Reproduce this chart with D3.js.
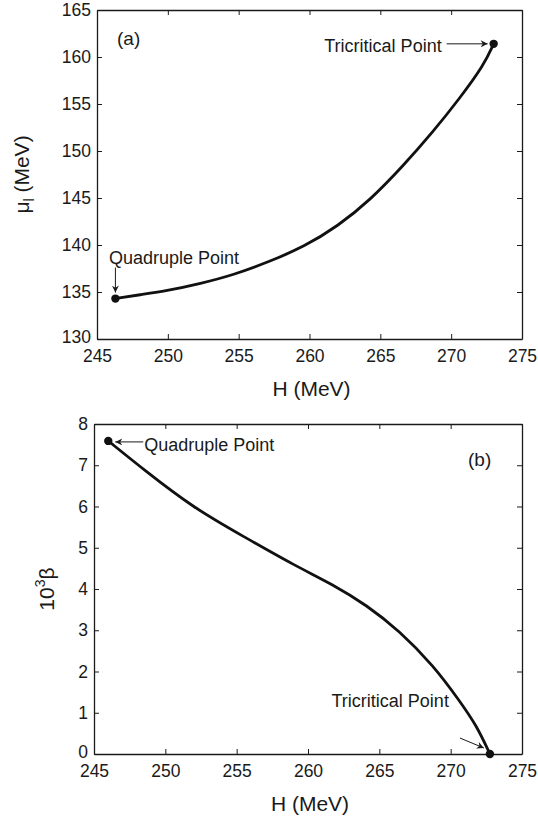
<!DOCTYPE html>
<html>
<head>
<meta charset="utf-8">
<script src="https://cdn.jsdelivr.net/npm/d3@7"></script>
<style>
  html, body { margin: 0; padding: 0; background: #fff; }
  svg { display: block; }
  text { font-family: "Liberation Sans", Arial, Helvetica, sans-serif; fill: #1a1a1a; }
</style>
</head>
<body>
<svg id="chart" width="538" height="816"></svg>
<script>
// ---------- data ----------
const xTicks = [245, 250, 255, 260, 265, 270, 275];
const yTicksA = [130, 135, 140, 145, 150, 155, 160, 165];
const yTicksB = [0, 1, 2, 3, 4, 5, 6, 7, 8];

// panel (a): mu_l vs H
const hA  = [246.3, 248.0, 250.0, 252.3, 254.6, 257.2, 259.6, 262.0, 264.3, 266.6, 268.7, 270.6, 272.3, 273.0];
const muA = [134.3, 134.7, 135.15, 135.9, 136.8, 138.25, 139.8, 142.0, 144.8, 148.4, 152.0, 155.6, 159.1, 161.4];

// panel (b): 10^3 beta vs H
const hB    = [246.0, 248.5, 252.0, 255.5, 259.0, 261.8, 264.1, 266.4, 268.8, 270.6, 271.8, 272.75];
const betaB = [7.59, 6.89, 5.96, 5.27, 4.58, 4.10, 3.61, 2.99, 2.14, 1.30, 0.70, 0.0];

const quadA = [246.3, 134.3], triA = [273.0, 161.4];
const quadB = [246.0, 7.59],  triB = [272.75, 0.0];

const labelQuad = "Quadruple Point";
const labelTri = "Tricritical Point";

// ---------- drawing ----------
const svg = d3.select("#chart");
const defs = svg.append("defs");
defs.append("marker")
  .attr("id", "arrow")
  .attr("markerUnits", "userSpaceOnUse")
  .attr("viewBox", "0 0 10 10")
  .attr("refX", 10).attr("refY", 5)
  .attr("markerWidth", 9).attr("markerHeight", 7)
  .attr("orient", "auto")
  .append("path").attr("d", "M0,0 L10,5 L0,10 L3,5 Z").attr("fill", "#1a1a1a");

function panel(box, yDomain, yTicks) {
  const x = d3.scaleLinear().domain([245, 275]).range([box.l, box.r]);
  const y = d3.scaleLinear().domain(yDomain).range([box.b, box.t]);
  const g = svg.append("g");

  const ax = (axis, tr) => {
    const a = g.append("g").attr("transform", tr).call(axis);
    a.selectAll("path.domain").attr("stroke", "#1a1a1a").attr("stroke-width", 1.3);
    a.selectAll(".tick line").attr("stroke", "#1a1a1a").attr("stroke-width", 1);
    a.selectAll(".tick text")
      .style("font-family", '"Liberation Sans", Arial, Helvetica, sans-serif')
      .attr("font-size", 17.5).attr("fill", "#1a1a1a");
    return a;
  };
  ax(d3.axisBottom(x).tickValues(xTicks).tickSizeInner(-5).tickSizeOuter(0).tickPadding(11).tickFormat(d3.format("d")),
     `translate(0,${box.b})`);
  ax(d3.axisTop(x).tickValues(xTicks).tickSizeInner(-5).tickSizeOuter(0).tickFormat(""),
     `translate(0,${box.t})`);
  const yl = ax(d3.axisLeft(y).tickValues(yTicks).tickSizeInner(-5).tickSizeOuter(0).tickPadding(6).tickFormat(d3.format("d")),
     `translate(${box.l},0)`);
  // lift the lowest y tick label slightly so it clears the x tick labels
  yl.selectAll(".tick text").filter(d => d === yDomain[0]).attr("dy", "0.2em");
  ax(d3.axisRight(y).tickValues(yTicks).tickSizeInner(-5).tickSizeOuter(0).tickFormat(""),
     `translate(${box.r},0)`);

  // x axis label
  g.append("text")
    .attr("x", (box.l + box.r) / 2 + 2).attr("y", box.b + 57)
    .attr("text-anchor", "middle").attr("font-size", 21)
    .text("H (MeV)");
  return { x, y, g };
}

function arrow(g, x1, y1, x2, y2) {
  g.append("line")
    .attr("x1", x1).attr("y1", y1).attr("x2", x2).attr("y2", y2)
    .attr("stroke", "#1a1a1a").attr("stroke-width", 1)
    .attr("marker-end", "url(#arrow)");
}

function curve(p, hs, vs) {
  const pts = hs.map((h, i) => [h, vs[i]]);
  const line = d3.line().x(d => p.x(d[0])).y(d => p.y(d[1])).curve(d3.curveBasis);
  p.g.append("path").datum(pts)
    .attr("d", line).attr("fill", "none")
    .attr("stroke", "#111").attr("stroke-width", 2.8).attr("stroke-linecap", "round");
}

function dot(p, pt) {
  p.g.append("circle").attr("cx", p.x(pt[0])).attr("cy", p.y(pt[1])).attr("r", 4.2).attr("fill", "#111");
}

// ----- panel (a) -----
const boxA = { l: 97, r: 522, t: 10, b: 339 };
const pA = panel(boxA, [130, 165], yTicksA);
curve(pA, hA, muA);
dot(pA, quadA); dot(pA, triA);

pA.g.append("text").attr("x", boxA.l + 20).attr("y", boxA.t + 35)
  .attr("font-size", 19).text("(a)");

{
  const px = pA.x(triA[0]), py = pA.y(triA[1]);
  arrow(pA.g, px - 47, py, px - 6, py);
  pA.g.append("text").attr("x", px - 52).attr("y", py + 8)
    .attr("text-anchor", "end").attr("font-size", 18).text(labelTri);
}
{
  const px = pA.x(quadA[0]), py = pA.y(quadA[1]);
  arrow(pA.g, px, py - 31, px, py - 6);
  pA.g.append("text").attr("x", px - 6.5).attr("y", py - 35)
    .attr("font-size", 18).text(labelQuad);
}

// y label (a): mu_l (MeV)
{
  const t = pA.g.append("text")
    .attr("transform", `translate(29,${(boxA.t + boxA.b) / 2}) rotate(-90)`)
    .attr("text-anchor", "middle").attr("font-size", 21);
  t.append("tspan").text("\u03bc");
  t.append("tspan").attr("font-size", 14).attr("dy", 5).text("l");
  t.append("tspan").attr("dy", -5).text(" (MeV)");
}

// ----- panel (b) -----
const boxB = { l: 94, r: 522, t: 424, b: 754 };
const pB = panel(boxB, [0, 8], yTicksB);
curve(pB, hB, betaB);
dot(pB, quadB); dot(pB, triB);

pB.g.append("text").attr("x", boxB.r - 54).attr("y", boxB.t + 42)
  .attr("font-size", 19).text("(b)");

{
  const px = pB.x(quadB[0]), py = pB.y(quadB[1]);
  arrow(pB.g, px + 35, py + 1, px + 7, py + 1);
  pB.g.append("text").attr("x", px + 36).attr("y", py + 10)
    .attr("font-size", 18).text(labelQuad);
}
{
  const px = pB.x(triB[0]), py = pB.y(triB[1]);
  arrow(pB.g, px - 30, py - 16, px - 6, py - 6);
  pB.g.append("text").attr("x", px - 41).attr("y", py - 47)
    .attr("text-anchor", "end").attr("font-size", 18).text(labelTri);
}

// y label (b): 10^3 beta
{
  const t = pB.g.append("text")
    .attr("transform", `translate(54,${(boxB.t + boxB.b) / 2}) rotate(-90)`)
    .attr("text-anchor", "middle").attr("font-size", 21);
  t.append("tspan").text("10");
  t.append("tspan").attr("font-size", 14).attr("dy", -9).text("3");
  t.append("tspan").attr("dy", 9).text("\u03b2");
}
</script>
</body>
</html>
